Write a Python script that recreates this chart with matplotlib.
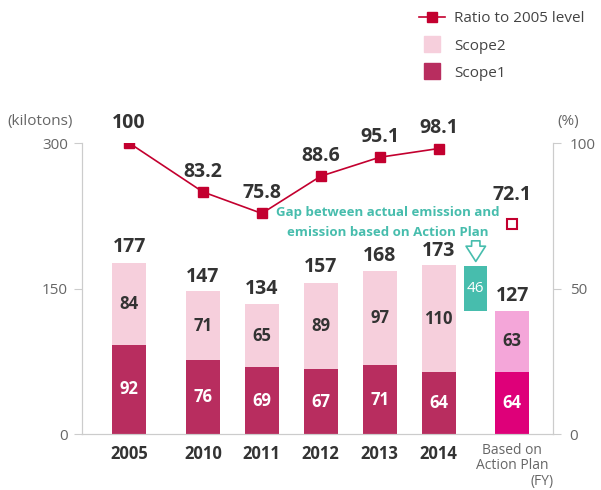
import matplotlib.pyplot as plt
from matplotlib.lines import Line2D

plt.rcParams["font.family"] = ["Open Sans", "DejaVu Sans"]

years = ["2005", "2010", "2011", "2012", "2013", "2014"]
positions = [0, 1.25, 2.25, 3.25, 4.25, 5.25]
scope1 = [92, 76, 69, 67, 71, 64]
scope2 = [84, 71, 65, 89, 97, 110]
totals = [177, 147, 134, 157, 168, 173]
ratio = [100, 83.2, 75.8, 88.6, 95.1, 98.1]

plan_pos = 6.5
plan_scope1 = 64
plan_scope2 = 63
plan_total = 127
plan_ratio = 72.1

gap_pos = 5.88
gap_value = 46

C_S1 = "#B82D5F"
C_S2 = "#F6CFDC"
C_PLAN1 = "#DE0079"
C_PLAN2 = "#F4A6D9"
C_GAP = "#47BDAD"
C_LINE = "#C3002F"
C_TEXT = "#333333"
C_GRAY = "#666666"
C_SPINE = "#CCCCCC"

fig = plt.figure(figsize=(6.01, 4.9), dpi=100)
ax = fig.add_axes([82 / 601, 1 - 434 / 490, (553 - 82) / 601, (434 - 143) / 490])
ax2 = ax.twinx()

w = 0.58
ax.bar(positions, scope1, width=w, color=C_S1, zorder=2)
ax.bar(positions, scope2, width=w, bottom=scope1, color=C_S2, zorder=2)
ax.bar(plan_pos, plan_scope1, width=w, color=C_PLAN1, zorder=2)
ax.bar(plan_pos, plan_scope2, width=w, bottom=plan_scope1, color=C_PLAN2, zorder=2)
ax.bar(gap_pos, gap_value, width=0.39, bottom=plan_total, color=C_GAP, zorder=2)

for x, s1, s2, t in zip(positions, scope1, scope2, totals):
    ax.text(x, s1 / 2, str(s1), ha="center", va="center", color="white",
            fontsize=12, fontweight="bold")
    ax.text(x, s1 + s2 / 2, str(s2), ha="center", va="center", color=C_TEXT,
            fontsize=12, fontweight="bold")
    ax.text(x, t + 5, str(t), ha="center", va="bottom", color=C_TEXT,
            fontsize=14, fontweight="bold")
ax.text(plan_pos, plan_scope1 / 2, str(plan_scope1), ha="center", va="center",
        color="white", fontsize=12, fontweight="bold")
ax.text(plan_pos, plan_scope1 + plan_scope2 / 2, str(plan_scope2), ha="center",
        va="center", color=C_TEXT, fontsize=12, fontweight="bold")
ax.text(plan_pos, plan_total + 5, str(plan_total), ha="center", va="bottom",
        color=C_TEXT, fontsize=14, fontweight="bold")
ax.text(gap_pos, plan_total + gap_value / 2, str(gap_value), ha="center",
        va="center", color="white", fontsize=11)

ax.text(4.38, 228, "Gap between actual emission and", ha="center", va="center",
        color=C_GAP, fontsize=9.5, fontweight="bold")
ax.text(4.38, 208, "emission based on Action Plan", ha="center", va="center",
        color=C_GAP, fontsize=9.5, fontweight="bold")
ax.annotate("", xy=(gap_pos, 175), xytext=(gap_pos, 202),
            arrowprops=dict(arrowstyle="simple,head_width=1.4,head_length=1.1,tail_width=0.6",
                            fc="white", ec=C_GAP, lw=1.2))

ax2.plot(positions, ratio, color=C_LINE, lw=1.2, marker="s", markersize=7, zorder=3)
ax2.plot([plan_pos], [plan_ratio], ls="none", marker="s", markersize=7,
         mfc="white", mec=C_LINE, mew=1.5)
for x, r in zip(positions, ratio):
    ax2.text(x, r + 3.5, f"{r:g}", ha="center", va="bottom", color=C_TEXT,
             fontsize=14, fontweight="bold")
ax2.text(plan_pos, plan_ratio + 6.5, f"{plan_ratio:g}", ha="center",
         va="bottom", color=C_TEXT, fontsize=14, fontweight="bold")

ax.set_xlim(-0.8, 7.19)
ax.set_ylim(0, 300)
ax2.set_ylim(0, 100)
ax.set_yticks([0, 150, 300])
ax2.set_yticks([0, 50, 100])
ax.set_xticks(positions)
ax.set_xticklabels(years, fontsize=12, fontweight="bold", color=C_TEXT)
ax.tick_params(axis="x", length=0, pad=8)
ax.tick_params(axis="y", length=6, color=C_SPINE, labelcolor=C_GRAY,
               labelsize=11, pad=4)
ax2.tick_params(axis="y", length=6, color=C_SPINE, labelcolor=C_GRAY,
                labelsize=11, pad=6)
for a in (ax, ax2):
    a.spines["top"].set_visible(False)
    for side in ("left", "right", "bottom"):
        a.spines[side].set_color(C_SPINE)

ax.text(plan_pos, -9, "Based on", ha="center", va="top", color=C_GRAY, fontsize=10)
ax.text(plan_pos, -25, "Action Plan", ha="center", va="top", color=C_GRAY, fontsize=10)
ax.text(7.2, -41, "(FY)", ha="right", va="top", color=C_GRAY, fontsize=10)
fig.text(40 / 601, 1 - 122 / 490, "(kilotons)", ha="center", va="center",
         color=C_GRAY, fontsize=11)
fig.text(568 / 601, 1 - 122 / 490, "(%)", ha="center", va="center",
         color=C_GRAY, fontsize=11)

handles = [
    Line2D([], [], color=C_LINE, marker="s", markersize=7, lw=1.2),
    Line2D([], [], ls="none", marker="s", markersize=11, color=C_S2),
    Line2D([], [], ls="none", marker="s", markersize=11, color=C_S1),
]
labels = ["Ratio to 2005 level", "Scope2", "Scope1"]
fig.legend(handles, labels, loc="upper left", bbox_to_anchor=(405 / 601, 1.005),
           frameon=False, fontsize=11, labelspacing=0.8, handlelength=1.7,
           handletextpad=0.6, labelcolor="#444444")

fig.savefig("out.png", dpi=100)
